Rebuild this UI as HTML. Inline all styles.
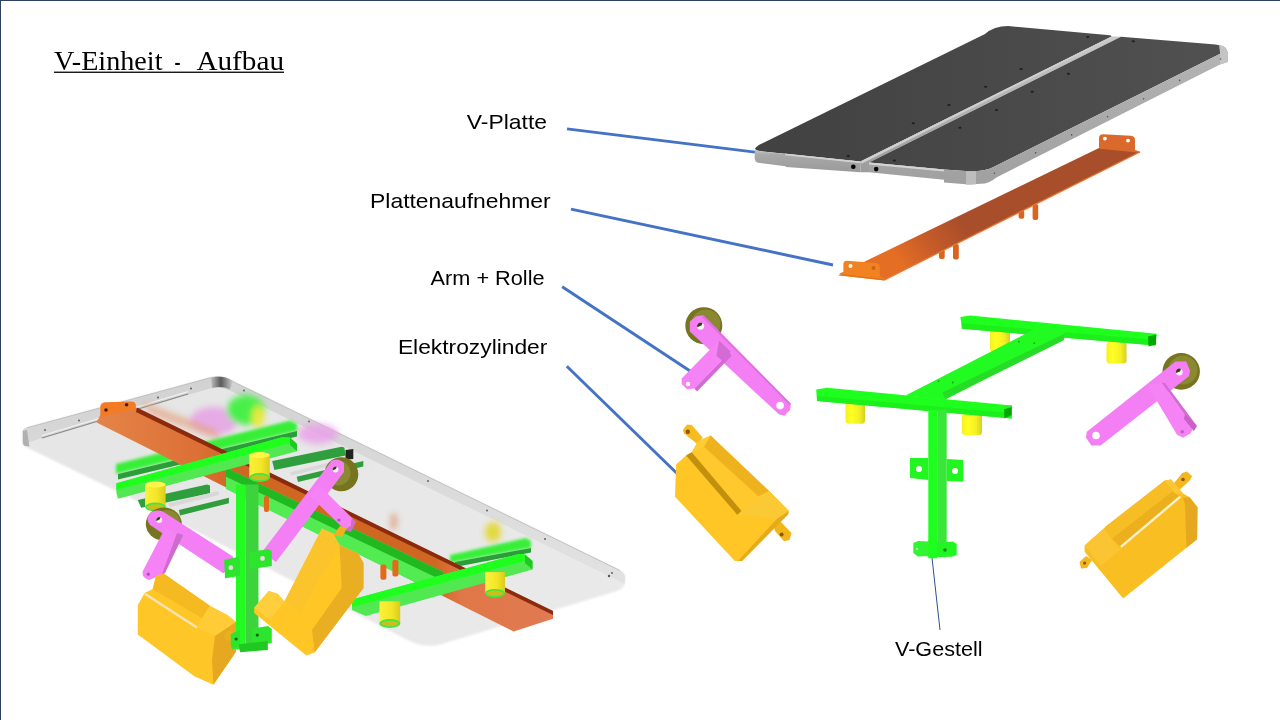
<!DOCTYPE html>
<html><head><meta charset="utf-8"><style>
html,body{margin:0;padding:0;background:#fff;}
body{width:1280px;height:720px;overflow:hidden;position:relative;}
svg{position:absolute;left:0;top:0;will-change:transform;}
</style></head><body>
<svg width="1280" height="720" viewBox="0 0 1280 720">
<defs>
<linearGradient id="gFace" x1="0" y1="0" x2="0" y2="1"><stop offset="0" stop-color="#c8c8c8"/><stop offset="0.25" stop-color="#a9a9a9"/><stop offset="1" stop-color="#9a9a9a"/></linearGradient>
<linearGradient id="gOr" gradientUnits="userSpaceOnUse" x1="900" y1="262" x2="960" y2="222"><stop offset="0" stop-color="#e46e24"/><stop offset="0.45" stop-color="#c85c28"/><stop offset="1" stop-color="#a94e2b"/></linearGradient>
<linearGradient id="gPlate" x1="0" y1="0" x2="1" y2="0.5"><stop offset="0" stop-color="#e5e5e5"/><stop offset="1" stop-color="#e9e9e9"/></linearGradient>
<linearGradient id="gOrA" x1="0" y1="0" x2="1" y2="0"><stop offset="0" stop-color="#e58447"/><stop offset="0.22" stop-color="#dc7036"/><stop offset="0.3" stop-color="#cf6722"/><stop offset="0.74" stop-color="#cf6722"/><stop offset="0.8" stop-color="#df7748"/><stop offset="1" stop-color="#e27a52"/></linearGradient>
<filter id="blur3" x="-20%" y="-20%" width="140%" height="140%"><feGaussianBlur stdDeviation="3"/></filter>
<linearGradient id="gFace2" x1="0" y1="0" x2="0" y2="1"><stop offset="0" stop-color="#b4b4b4"/><stop offset="1" stop-color="#a0a0a0"/></linearGradient>
<linearGradient id="gSide" x1="0" y1="0" x2="0" y2="1"><stop offset="0" stop-color="#c9c9c9"/><stop offset="1" stop-color="#9c9c9c"/></linearGradient>
<linearGradient id="gRim" x1="0" y1="0" x2="0" y2="1"><stop offset="0" stop-color="#d2d2d2"/><stop offset="1" stop-color="#e2e2e2"/></linearGradient>
<linearGradient id="gCorner" x1="0" y1="0" x2="1" y2="0"><stop offset="0" stop-color="#bdbdbd"/><stop offset="0.45" stop-color="#5a5a5a"/><stop offset="1" stop-color="#cfcfcf"/></linearGradient>
<linearGradient id="gFoot" x1="0" y1="0" x2="1" y2="0"><stop offset="0" stop-color="#fdf23a"/><stop offset="0.6" stop-color="#f2e528"/><stop offset="1" stop-color="#d8cc1a"/></linearGradient>
<filter id="blur1" x="-10%" y="-30%" width="120%" height="160%"><feGaussianBlur stdDeviation="1.5"/></filter>
<filter id="blur05" x="-2%" y="-2%" width="104%" height="104%"><feGaussianBlur stdDeviation="0.8"/></filter>
<linearGradient id="gFootX" x1="0" y1="0" x2="1" y2="0"><stop offset="0" stop-color="#f6f020"/><stop offset="0.3" stop-color="#ffff22"/><stop offset="0.7" stop-color="#f4f024"/><stop offset="1" stop-color="#d6d020"/></linearGradient>
<linearGradient id="gTop" gradientUnits="userSpaceOnUse" x1="790" y1="0" x2="1200" y2="0"><stop offset="0" stop-color="#424242"/><stop offset="1" stop-color="#505050"/></linearGradient>
</defs>
<rect x="0" y="0" width="1280" height="720" fill="#fff"/>
<rect x="0" y="0" width="1280" height="1" fill="#2f3f62"/>
<rect x="0" y="0" width="1" height="720" fill="#2f3f62"/>

<!-- title -->
<g font-family="'Liberation Serif', serif" font-size="27" fill="#000">
<text x="54" y="69.8" textLength="108.5" lengthAdjust="spacingAndGlyphs">V-Einheit</text>
<text x="174.6" y="69.8" textLength="6" lengthAdjust="spacingAndGlyphs">-</text>
<text x="196.4" y="69.8" textLength="87.6" lengthAdjust="spacingAndGlyphs">Aufbau</text>
</g>
<rect x="54" y="71.6" width="230" height="1.3" fill="#000"/>

<!-- labels -->
<g font-family="'Liberation Sans', sans-serif" font-size="20.4" fill="#000">
<text x="466.8" y="128.6" textLength="80.2" lengthAdjust="spacingAndGlyphs">V-Platte</text>
<text x="370.1" y="207.9" textLength="180.6" lengthAdjust="spacingAndGlyphs">Plattenaufnehmer</text>
<text x="430.6" y="285" textLength="114" lengthAdjust="spacingAndGlyphs">Arm + Rolle</text>
<text x="397.9" y="353.7" textLength="149.5" lengthAdjust="spacingAndGlyphs">Elektrozylinder</text>
<text x="895" y="655.8" textLength="87.5" lengthAdjust="spacingAndGlyphs">V-Gestell</text>
</g>
<g stroke="#4472c4" stroke-width="2.9" fill="none">
<line x1="567" y1="128.9" x2="755" y2="152.1"/>
<line x1="571" y1="209.1" x2="833" y2="265"/>
<line x1="562.2" y1="286.7" x2="691.2" y2="371.7"/>
<line x1="566.8" y1="366.2" x2="679.9" y2="476.2"/>
</g>
<line x1="931.7" y1="555" x2="940" y2="630" stroke="#2f4f8f" stroke-width="1"/>

<!-- ============ TOP PLATES ============ -->
<!-- left plate -->
<path d="M755,149 Q756,146 762,143.5 L985,34 Q994,26 1008,26 L1110,35.3 Q1112,35.8 1111.5,37 L860.4,161.5 L763,151.5 Q756,150.5 755,149Z" fill="url(#gTop)"/>
<path d="M755,149 Q756,150.5 761.4,151.4 L860.4,161.5 L860.4,172.2 L786,167 L785.5,166.2 L758,162.8 Q755,162 754.6,158 Z" fill="url(#gFace)"/>
<path d="M785,153.6 L860.4,161.5 L860.4,163.2 L785,155.3Z" fill="#d2d2d2"/>
<path d="M860.4,161.5 L1111.5,36.6 L1121,36.8 L869,162.6 L869,172.2 L860.4,172.2 Z" fill="url(#gSide)"/>
<path d="M860.4,161.5 L1111.5,36.6 L1113.5,37 L862,163.5Z" fill="#d0d0d0"/>
<circle cx="853.3" cy="166.7" r="2.3" fill="#000"/>
<!-- right plate -->
<path d="M869,162.6 L1121,36.8 L1215.6,44.4 Q1226.7,46 1226.7,50.5 L993,167.3 Q985,171.5 969,171.2 L944,169.5 Z" fill="url(#gTop)"/>
<path d="M869,162.6 L944,169.5 L969,171.2 Q985,171.5 993,167.3 L1226.7,50.5 L1227.8,52 L1227.8,62 L1220,64.4 L996.4,177.5 Q990,182.5 984.7,183.4 L969,184.5 L944,182.6 L944,179.8 L869,172.2 Z" fill="url(#gFace2)"/>
<path d="M869,162.6 L944,169.5 L944,171.5 L869,164.6Z" fill="#d4d4d4"/>
<path d="M966,171.2 Q972,171.4 976,171.2 L976,184.2 Q972,184.4 966,184.6Z" fill="#bdbdbd"/>
<path d="M1219,45 Q1226.7,46 1226.7,50.5 L1227.8,52 L1227.8,62 L1220,64.4 L1220,52 Z" fill="#c4c4c4"/>
<circle cx="876.2" cy="169.1" r="2.3" fill="#000"/>
<g fill="#1e1e1e">
<ellipse cx="1087.8" cy="36.9" rx="1.6" ry="1"/><ellipse cx="1021.1" cy="69" rx="1.6" ry="1"/><ellipse cx="985.6" cy="86.8" rx="1.6" ry="1"/><ellipse cx="948.9" cy="105.1" rx="1.6" ry="1"/><ellipse cx="913.3" cy="123.3" rx="1.6" ry="1"/><ellipse cx="848.2" cy="156" rx="1.6" ry="1"/>
<ellipse cx="1133.3" cy="41.2" rx="1.6" ry="1"/><ellipse cx="1068.4" cy="73.8" rx="1.6" ry="1"/><ellipse cx="1032.2" cy="91.8" rx="1.6" ry="1"/><ellipse cx="996.5" cy="110" rx="1.6" ry="1"/><ellipse cx="960" cy="127.8" rx="1.6" ry="1"/><ellipse cx="894.4" cy="160.6" rx="1.6" ry="1"/>
</g>
<g fill="#555">
<circle cx="1220.5" cy="59" r="0.8"/><circle cx="1179.6" cy="80.4" r="0.8"/><circle cx="1143.6" cy="98.7" r="0.8"/><circle cx="1107.6" cy="116.7" r="0.8"/><circle cx="1071.6" cy="134.9" r="0.8"/><circle cx="1035.6" cy="152.9" r="0.8"/><circle cx="994.4" cy="173.3" r="0.8"/>
</g>

<!-- ============ ORANGE BRACKET ============ -->
<g fill="#d86420">
<rect x="939" y="249" width="5.7" height="10" rx="2"/><rect x="953" y="244" width="5.8" height="15.4" rx="2"/>
<rect x="1018.6" y="210" width="5.6" height="8.7" rx="2"/><rect x="1032.6" y="204" width="5.6" height="16" rx="2"/>
</g>
<path d="M839,274 L1100,147.5 L1140,152 L884.5,279.8 Z" fill="url(#gOr)"/>
<path d="M884.5,279.8 L1140,152" stroke="#ea7630" stroke-width="1.3"/>
<path d="M1099,147 L1099,138 Q1099,134.2 1103,134.2 L1131,135.8 Q1135,136.2 1135,140 L1135,150 L1139.7,151.6 L1139.7,152.8 L1099.7,148.8 Z" fill="#d96a2c"/>
<circle cx="1104.9" cy="138.6" r="1.9" fill="#fff"/><circle cx="1128" cy="140.6" r="1.9" fill="#fff"/>
<path d="M838.2,275.2 L843.4,273 L843.4,264 Q843.5,260.7 847,260.7 L876,263 Q879.8,263.5 879.8,267 L879.8,276.2 L884.7,278.5 L884.7,280.6 Z" fill="#f08222"/>
<path d="M838.2,275.2 L884.7,280.6 L884.7,279 L843.4,274.2Z" fill="#e27418"/>
<circle cx="850.5" cy="265.9" r="2" fill="#fff"/><circle cx="873.5" cy="268" r="2" fill="#cf6418"/>

<!-- ============ MIDDLE PINK ARM ============ -->
<circle cx="703.8" cy="325.7" r="18.5" fill="#76741f"/>
<circle cx="706" cy="324" r="14.5" fill="#8a8830"/>
<path d="M689.8,321.6 L696.1,316.2 L703.3,315.3 L790.9,403.8 L790,410.1 L784.6,415.5 L779.2,414.6 L689.8,331.5 Z" fill="#f47ef4"/>
<path d="M703.3,315.3 L790.9,403.8 L789.5,405 L702,317 Z" fill="#e070e0"/>
<path d="M717.8,341.5 L729.5,352.3 L694.3,388.4 L687.1,389.3 L681.7,383.9 L681.7,378.5 Z" fill="#f683f6"/>
<path d="M729.5,352.3 L731.5,356 L697,391.5 L694.3,388.4 Z" fill="#d56ad5"/>
<path d="M719,340.5 L730.5,351.5 L724,362 L716.5,356 Z" fill="#d46ad4"/>
<circle cx="700.6" cy="326.1" r="3.6" fill="#f4f4f4"/>
<path d="M697.2,327.2 A3.6,3.6 0 0 1 702.5,323 L701.5,325.5Z" fill="#3c3c18"/>
<circle cx="780.1" cy="405.6" r="3.8" fill="#fff"/>
<circle cx="688" cy="383.9" r="2.2" fill="#fff"/>

<!-- ============ RIGHT PINK ARM ============ -->
<ellipse cx="1181.2" cy="371.4" rx="18.7" ry="18.3" fill="#76741f"/>
<circle cx="1183" cy="370" r="14.5" fill="#8a8830"/>
<path d="M1175.5,361.4 L1186.2,361.4 L1190,370.6 L1189.2,375.9 L1100.6,445.5 L1091.4,445.5 L1086,437.8 L1086.8,431.7 Z" fill="#f47ef4"/>
<path d="M1148,385.9 L1161.7,382.8 L1192.3,425.6 L1193.8,427.1 L1190.7,433.2 L1183.1,437.8 L1177,434.8 Z" fill="#f683f6"/>
<path d="M1161.7,382.8 L1165,383 L1197,426 L1193.8,431 L1192.3,425.6 Z" fill="#d56ad5"/>
<path d="M1185,414 L1196.5,426 L1193.8,431 L1184,419Z" fill="#c862c8"/>
<circle cx="1179.3" cy="372.1" r="3.4" fill="#f4f4f4"/>
<path d="M1176,373 A3.4,3.4 0 0 1 1181,369 L1180,371.5Z" fill="#3c3c18"/>
<circle cx="1096" cy="435.5" r="3.8" fill="#fff"/>
<circle cx="1182.3" cy="431.7" r="1.8" fill="#c060c0"/>

<!-- ============ MIDDLE YELLOW CYLINDER ============ -->
<path d="M682.8,430 L687.2,424.4 L691.7,425 L702.8,437.8 L697.2,443.9 L683.9,433.3 Z" fill="#f6bb1e"/>
<circle cx="687.8" cy="431.7" r="2.2" fill="#8a5a0a"/>
<path d="M773,524 L781,522 L791.5,533 L789.5,540 L784,541.2 L775,531 Z" fill="#f2b61c"/>
<circle cx="781.6" cy="534.6" r="2" fill="#8a5a0a"/>
<path d="M698.3,441.1 L710.6,435.6 L769.1,491.1 L788.9,510.9 L788,514.5 L742,561 L734.8,561 L675,496.7 L676.1,464.4 L686.1,455.6 L691.7,452.2 Z" fill="#ffc626"/>
<path d="M691.7,452.2 L698.3,441.1 L710.6,435.6 L704,447 Z" fill="#ffcc35"/>
<path d="M704,447 L710.6,435.6 L769.1,491.1 L758.5,496.4 Z" fill="#eeb21e"/>
<path d="M691.7,452.2 L704,447 L758.5,496.4 L741.4,510.9 Z" fill="#ffc82c"/>
<path d="M686.1,455.6 L691.7,452.2 L741.4,510.9 L737.4,514.9 Z" fill="#c3900e"/>
<path d="M737.4,514.9 L758.5,496.4 L769.1,491.1 L788.9,510.9 L777,518.8 Z" fill="#fbc934"/>
<path d="M777,518.8 L788.9,510.9 L788,514.5 L742,561 L738,561 Z" fill="#e6aa1c"/>

<!-- ============ GREEN FRAME (V-Gestell) ============ -->
<g fill="url(#gFootX)">
<rect x="845.5" y="401" width="19.5" height="22.7" rx="3"/>
<rect x="962" y="413" width="20" height="22" rx="3"/>
<rect x="990" y="330" width="20" height="22" rx="3"/>
<rect x="1106.5" y="342" width="20" height="21.5" rx="3"/>
</g>
<!-- back crossbar -->
<path d="M960.4,317 L970.3,315.5 L1156.5,333.7 L1155.4,345.6 L961.9,328.7 Z" fill="#1eff1e"/>
<path d="M961.9,323 L1155,340 L1155.4,345.6 L961.9,328.7 Z" fill="#1cf01c"/>
<path d="M1148,336.5 L1156.3,334.5 L1156,344.5 L1148.5,346.5Z" fill="#00a800"/>
<!-- spine -->
<path d="M905.6,395.6 L1039.2,326.7 L1065.9,328.1 L1064.5,338 L945,399.8 Z" fill="#22fb22"/>
<path d="M945.6,398.7 L1063.8,340.3 L1065,333.5 L942.4,392.5 Z" fill="#26dc26"/>
<g fill="#1a9a1a"><circle cx="938.6" cy="381.1" r="0.9"/><circle cx="952.7" cy="382.5" r="0.9"/><circle cx="1018.8" cy="341.7" r="0.9"/><circle cx="1034.2" cy="343.1" r="0.9"/></g>
<!-- front crossbar -->
<path d="M816.2,389.4 L826.9,387.7 L1011.9,405.5 L1011.7,418.5 L817,401 Z" fill="#1eff1e"/>
<path d="M817,396 L1011,413 L1011.7,418.5 L817,401 Z" fill="#1cf01c"/>
<path d="M1004,407.5 L1011.7,405.5 L1011.7,415 L1004.5,418.5Z" fill="#00a800"/><path d="M1004,407.5 L1011.7,405.5 L1011.7,407 L1004,409.2Z" fill="#3aee3a"/>
<!-- post -->
<rect x="928.3" y="410" width="9" height="147" fill="#1fff1f"/>
<rect x="937.3" y="410" width="9.4" height="147" fill="#3ae63a"/>
<path d="M910,458 L928.3,458 L928.3,480 L910,478 Z" fill="#22f522"/>
<path d="M946.7,459 L963.3,460 L963.3,481.7 L946.7,481 Z" fill="#22f522"/>
<circle cx="919" cy="469" r="3" fill="#fff"/><circle cx="955" cy="471" r="3" fill="#fff"/>
<path d="M913.3,543 L918,541 L930,541.5 L930,556 L918,556.5 L913.3,553 Z" fill="#30f530"/>
<path d="M937,543 L953,541.5 L956.7,544 L956.7,555 L952,556.7 L937,557 Z" fill="#22f522"/>
<rect x="928.3" y="540" width="9" height="18.3" fill="#1fff1f"/>
<circle cx="945" cy="550" r="1.8" fill="#149014"/><circle cx="917" cy="549" r="1.2" fill="#9af09a"/>

<!-- ============ RIGHT YELLOW CYLINDER ============ -->
<path d="M1171.1,486.8 L1182.3,472.9 L1186.9,471.6 L1192.2,476.2 L1189.6,480.8 L1177,492.1 Z" fill="#f4b81e"/>
<circle cx="1183" cy="479.5" r="1.8" fill="#8a5a0a"/>
<path d="M1079.5,562 L1086,556 L1092,560 L1087,568 L1081,568.5 Z" fill="#f4b81e"/>
<circle cx="1084.6" cy="563.1" r="1.6" fill="#8a5a0a"/>
<path d="M1084.6,545.4 L1103.8,528.4 L1105.1,527 L1164.5,480.8 L1171.1,479.5 L1183,493.4 L1189.6,497.3 L1197.5,507.2 L1197.1,539.2 L1123.1,598.5 L1084.6,551.7 Z" fill="#f8be22"/>
<path d="M1105.1,527 L1164.5,480.8 L1171.1,479.5 L1172.4,491.4 L1111.7,538.9 Z" fill="#f6bd24"/>
<path d="M1164.5,480.8 L1171.1,479.5 L1183,493.4 L1176,494 Z" fill="#fcc636"/>
<path d="M1111.7,538.9 L1172.4,491.4 L1176,494 L1180.3,496.7 L1120.9,546.8 Z" fill="#ecb01e"/>
<path d="M1180.3,496.7 L1120.9,546.8" stroke="#fff2cc" stroke-width="2.4"/>
<path d="M1084.6,545.4 L1103.8,528.4 L1111.7,538.9 L1120.9,549.5 L1101,566 Z" fill="#fbc432"/>
<path d="M1183,498 L1189.6,497.3 L1197.5,507.2 L1197.1,539.2 L1186.5,547.8 L1185,505 Z" fill="#e5a820"/>

<!-- ============ ASSEMBLY (bottom-left) ============ -->
<g id="asm">
<!-- plate -->
<path d="M22.8,431 Q23,428.5 27,427.8 L210,377.8 Q223,374.5 234,382 L620,570.5 Q625.5,573.5 625,579 L624.5,584 Q623.5,589 617,591 L440,644.5 Q427,647.5 414,643 L405,638.7 L137,501 L27,447.5 Q22.8,445.5 22.8,442 Z" fill="url(#gPlate)" filter="url(#blur05)"/>
<!-- rim back -->
<path d="M22.8,431 Q23,428.5 27,427.8 L210,377.8 Q223,374.5 234,382 L620,570.5 Q625.5,573.5 625,579 L624.5,584 L618,580.5 L232,391.5 Q222,386 210,388.5 L42,438 L27,443 L22.8,444 Z" fill="url(#gRim)"/>
<path d="M27,427.8 L210,377.8 Q223,374.5 234,382 L620,570.5" fill="none" stroke="#bcbcbc" stroke-width="0.9"/>
<path d="M42,438 L188,394" stroke="#8a8a8a" stroke-width="1.3"/>
<path d="M42,435.6 L188,391.6" stroke="#f7f7f7" stroke-width="1"/>
<path d="M22.8,431 L27,430 L29.4,446.5 L25,446 Q22.8,445 22.8,442Z" fill="#b0b0b0"/>
<path d="M211,377.8 Q223,374.5 233,381 L230,389.5 Q222,385.5 212,388Z" fill="url(#gCorner)"/>
<g fill="#555"><circle cx="45" cy="430" r="0.9"/><circle cx="79" cy="420.5" r="0.9"/><circle cx="158" cy="397.5" r="0.9"/><circle cx="191" cy="388.5" r="0.9"/><circle cx="244" cy="390.5" r="0.9"/><circle cx="309" cy="421.5" r="0.9"/><circle cx="428" cy="481" r="0.9"/><circle cx="487" cy="510.5" r="0.9"/><circle cx="545" cy="539" r="0.9"/><circle cx="609" cy="576" r="1.2"/><circle cx="612" cy="573" r="0.9"/></g>
<!-- blurred behind-the-plate items -->
<g filter="url(#blur3)">
<ellipse cx="214" cy="421" rx="24" ry="14" fill="#e69ce6" opacity="0.8"/>
<ellipse cx="246" cy="410" rx="19" ry="15" fill="#48ef48"/>
<ellipse cx="258" cy="417" rx="6" ry="11" fill="#e8e83a"/>
<ellipse cx="318" cy="434" rx="20" ry="10" fill="#ea9eea" opacity="0.8"/>
<path d="M140,401 L215,429 L222,441 L150,414 Z" fill="#e4a27c" opacity="0.7"/>
<ellipse cx="493" cy="532" rx="8" ry="10" fill="#e2d83a"/>
<rect x="391" y="514" width="5.5" height="15" fill="#d9855a" opacity="0.7"/>
</g>
<g filter="url(#blur1)">
<path d="M116,464 L290,420.5 L297,424 L297,431 L116,474Z" fill="#39ef39"/>
<path d="M450,555 L526,538 L531,541 L531,548 L450,563Z" fill="#39ef39"/>
</g>
<path d="M118,474 L297,431 L297,436.5 L118,479.5Z" fill="#2b9e3a"/>
<path d="M455,562 L531,548 L531,552.5 L455,567Z" fill="#2b9e3a"/>
<!-- orange bar -->
<path d="M96.6,422.5 L100.3,415 L136.9,408 L553,611 L553,618.8 L513.6,631.4 Z" fill="url(#gOrA)"/>
<path d="M136.9,407.5 L553,611 L553,615 L136,412 Z" fill="#8c2a0e"/>
<path d="M100.3,416 L100.3,406.5 Q100.5,403 105,402.3 L131,401.5 Q135.9,401.5 135.9,405.5 L135.9,409 L102,416.5Z" fill="#f27c26"/>
<circle cx="106" cy="410" r="1.8" fill="#4a1a00"/><circle cx="126.6" cy="404.8" r="1.8" fill="#4a1a00"/>
<!-- rails -->
<path d="M137.8,500 L207,484.6 L210,485.5 L210,493.3 L141.1,507.8 Z" fill="#2e9f3c"/>
<path d="M168,503.5 L216,491.5 L219,491.8 L219,495 L170,507 Z" fill="#d8d8d8"/>
<path d="M178.9,510 L228.9,497.8 L228.9,503.3 L180,515.5 Z" fill="#2e9f3c"/>
<path d="M272.2,461.1 L341.5,446.7 L344.4,447.5 L345.5,455.6 L274.4,470 Z" fill="#2e9f3c"/>
<path d="M290,472.2 L343,459 L345.5,459.5 L345.5,462.5 L291,475.5 Z" fill="#d8d8d8"/>
<path d="M296.7,476.7 L363.3,461.1 L363.3,466.5 L298,482 Z" fill="#2e9f3c"/>
<path d="M345.5,450 L353.3,449 L353.3,458.9 L345.5,459.5Z" fill="#222"/>
<!-- spine -->
<path d="M226,467.7 L443,571.8 L443,596 L236,494 L226,489 Z" fill="#52ec52"/>
<path d="M226,467.7 L443,571.8 L443,580.8 L226,476.7 Z" fill="#22b822"/>
<!-- near crossbar 1 -->
<path d="M116.4,483.2 L282.1,437.2 L290,437.5 L297,444 L297,451.2 L118,498.8 L116.4,493 Z" fill="#52e852"/>
<path d="M116.4,483.2 L282.1,437.2 L290,437.5 L290,443 L116.4,490 Z" fill="#1eff1e"/>
<path d="M290,437.5 L297,444 L297,451.2 L290,445Z" fill="#22c822"/>
<!-- crossbar 2 -->
<path d="M352,599.6 L518.8,554.1 L525,554.5 L532.5,561 L532.5,569.5 L365.8,616 L352,610 Z" fill="#52e852"/>
<path d="M352,599.6 L518.8,554.1 L525,554.5 L525,561 L352,607 Z" fill="#1eff1e"/>
<path d="M525,554.5 L532.5,561 L532.5,569.5 L525,563Z" fill="#22c822"/>
<!-- orange pegs -->
<rect x="380.4" y="564.4" width="6" height="15.4" rx="2" fill="#e46a1a"/>
<rect x="392.4" y="560" width="6" height="16.4" rx="2" fill="#e46a1a"/>
<rect x="264" y="496" width="5" height="16" rx="2" fill="#e46a1a"/>
<!-- feet -->
<g>
<rect x="145.1" y="484" width="20.5" height="23" fill="url(#gFoot)"/><ellipse cx="155.4" cy="484.5" rx="10.2" ry="3" fill="#fff54a"/><ellipse cx="155.4" cy="507" rx="9.6" ry="3.6" fill="#c9bf1e" stroke="#3fe83f" stroke-width="1.6"/>
<rect x="249.3" y="454.5" width="20.5" height="23" fill="url(#gFoot)"/><ellipse cx="259.6" cy="455" rx="10.2" ry="3" fill="#fff54a"/><ellipse cx="259.6" cy="477.5" rx="9.6" ry="3.6" fill="#c9bf1e" stroke="#3fe83f" stroke-width="1.6"/>
<rect x="485.2" y="572.1" width="19.8" height="21" fill="url(#gFoot)"/><ellipse cx="495" cy="593.3" rx="9.3" ry="3.6" fill="#c9bf1e" stroke="#3fe83f" stroke-width="1.6"/>
<rect x="379.5" y="601.3" width="20.7" height="22" fill="url(#gFoot)"/><ellipse cx="389.8" cy="623.5" rx="9.7" ry="3.6" fill="#c9bf1e" stroke="#3fe83f" stroke-width="1.6"/>
</g>
<!-- left arm -->
<ellipse cx="163.8" cy="524" rx="18" ry="16.5" fill="#76741f"/>
<ellipse cx="167" cy="522" rx="13" ry="12" fill="#8a8830"/>
<path d="M163.3,511.7 L233.3,556.7 L232,566 L223.3,573.3 L150,525 Q145,518 150,513 Q156,509 163.3,511.7 Z" fill="#f47ef4"/>
<path d="M165,528.3 L183.3,535 L161.7,575 L149,580 Q142,578 142.5,571.7 Z" fill="#f683f6"/>
<path d="M177,533 L183.3,535 L165,573 L161.7,575Z" fill="#cf6acf"/>
<circle cx="159.2" cy="520" r="3" fill="#f0f0f0"/>
<path d="M156.4,521 A3,3 0 0 1 160.5,517.3 L159.5,519.5Z" fill="#3c3c18"/>
<circle cx="148.3" cy="574.2" r="1.6" fill="#b050b0"/>
<!-- right arm -->
<ellipse cx="341.3" cy="474.2" rx="17" ry="17" fill="#76741f"/>
<ellipse cx="338" cy="473" rx="12.5" ry="12.5" fill="#8a8830"/>
<path d="M331,461 Q338,457 344,463 L344,472 L276,562 L262,552 L330,463 Z" fill="#f47ef4"/>
<path d="M318,484 L352,518 L351,526 L345,530 L310,496 Z" fill="#f683f6"/>
<path d="M352,518 L356,522 L351,532 L345,530 L351,526Z" fill="#cf6acf"/>
<circle cx="335.5" cy="469.5" r="3" fill="#f0f0f0"/>
<path d="M332.7,470.5 A3,3 0 0 1 336.8,466.8 L335.8,469Z" fill="#3c3c18"/>
<circle cx="339" cy="520" r="1.6" fill="#b050b0"/>
<!-- post -->
<rect x="236" y="484.5" width="9.5" height="165" fill="#22fa22"/>
<rect x="245.5" y="484.5" width="13" height="165" fill="#3dd33d"/>
<path d="M224.2,560 L237.5,557 L240,559 L240,576 L225,578.3 Z" fill="#2ee52e"/>
<path d="M249.3,552 L268,549.2 L271.8,551 L271.8,566 L252,569 L249.3,567 Z" fill="#2ee52e"/>
<circle cx="230.8" cy="567.7" r="2.4" fill="#e0e0e0"/><circle cx="262.5" cy="558.5" r="2.4" fill="#e0e0e0"/>
<!-- left cylinder -->
<path d="M137.8,605 L144.8,592.8 L152.6,589.3 L156,576.3 L163.9,573.7 L209.9,605.8 L227.3,615 L236,622 L236,651.8 L213.4,684.8 L194.3,676.2 L137.8,634.5 Z" fill="#ffc628"/>
<path d="M152.6,589.3 L156,576.3 L163.9,573.7 L209.9,605.8 L202,618 Z" fill="#f5ba22"/>
<path d="M144.8,593.7 L196.9,627.5" stroke="#f6e4b4" stroke-width="2.4"/>
<path d="M196.9,627.5 L209,606.7 L227.3,615 L236,622 L215,636 Z" fill="#ffcc38"/>
<path d="M215,636 L236,622 L236,651.8 L213.4,684.8 L212,660 Z" fill="#e6a820"/>
<circle cx="229" cy="636" r="5" fill="#e8b020"/>
<!-- right cylinder -->
<path d="M333,535 L340,526 L347,528 L342,537 Z" fill="#f0b020"/>
<path d="M254.2,607.7 L268.8,591 L278,594 L284.4,601.5 L321.9,528.5 L333.3,533.8 L339.6,545.2 L358.3,553.5 L363.5,562.9 L363.5,587.9 L314.6,652.5 L306.3,655.6 L254.2,612.9 Z" fill="#ffc626"/>
<path d="M284.4,601.5 L321.9,528.5 L333.3,533.8 L339.6,545.2 L300,612 Z" fill="#fcc42c"/>
<path d="M339.6,545.2 L358.3,553.5 L363.5,562.9 L363.5,587.9 L314.6,652.5 L312,630 L341.7,588 Z" fill="#e9ae22"/>
<path d="M254.2,607.7 L268.8,591 L278,594 L284.4,601.5 L270,620 Z" fill="#ffce3c"/>
<!-- post lower brackets (in front) -->
<path d="M230.8,634 L240,630 L240,647 L232,649.6 L230.8,645Z" fill="#2ee52e"/>
<path d="M252,628.5 L268,626 L271.8,629 L271.8,643 L255,646 L252,644Z" fill="#2ee52e"/>
<path d="M238.8,644.3 L267.8,641 L267.8,650 L240,652.3Z" fill="#22c822"/>
<circle cx="236.1" cy="639" r="1.6" fill="#176017"/><circle cx="257.3" cy="635.1" r="1.6" fill="#176017"/>
</g>
</svg>
</body></html>
